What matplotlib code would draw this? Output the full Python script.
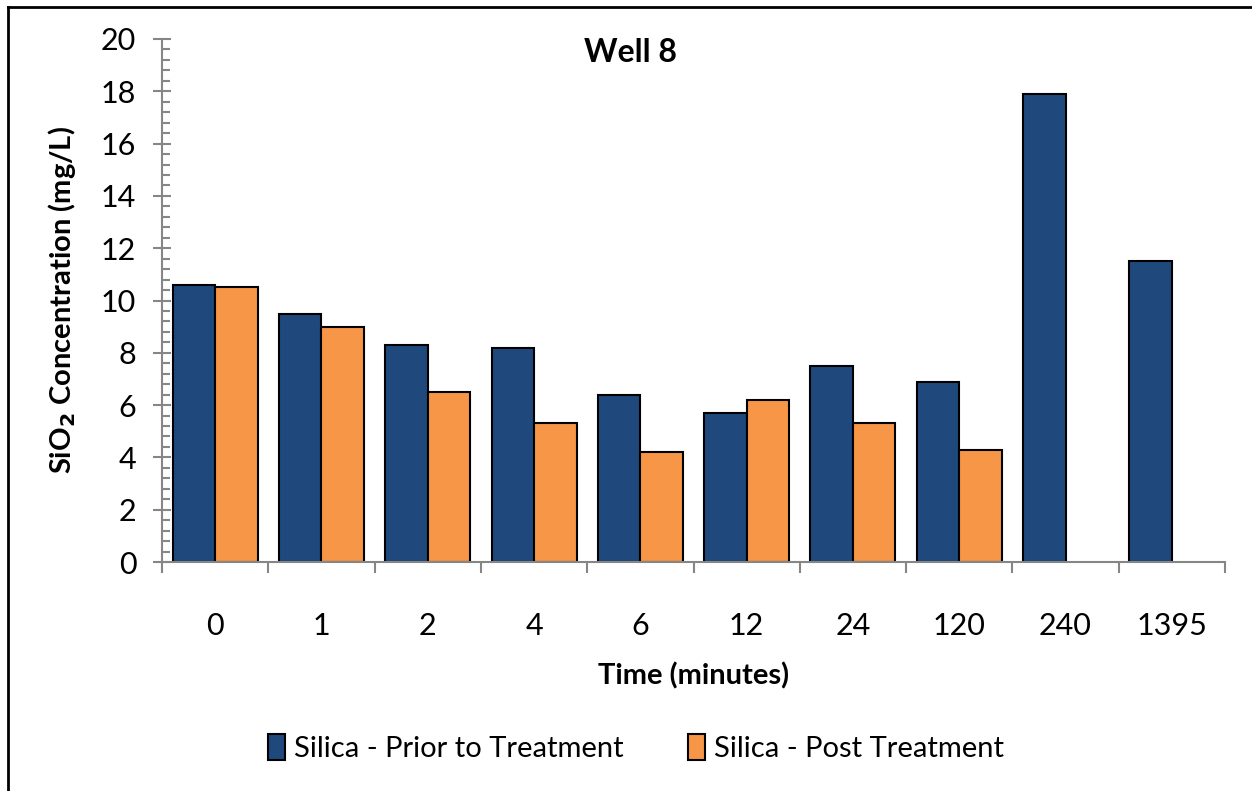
import matplotlib.pyplot as plt
import numpy as np
from matplotlib.ticker import MultipleLocator
from matplotlib.lines import Line2D

plt.rcParams['font.family'] = ['Lato', 'DejaVu Sans']

times = ['0', '1', '2', '4', '6', '12', '24', '120', '240', '1395']
prior = [10.6, 9.5, 8.3, 8.2, 6.4, 5.7, 7.5, 6.9, 17.9, 11.5]
post = [10.5, 9.0, 6.5, 5.3, 4.2, 6.2, 5.3, 4.3, np.nan, np.nan]

W, H = 1252, 791
fig = plt.figure(figsize=(W / 100, H / 100), dpi=100)
ax = fig.add_axes([162 / W, 1 - 562 / H, (1225 - 162) / W, (562 - 39) / H])

x = np.arange(len(times))
w = 0.4
ax.bar(x - w / 2, prior, w, color='#1F497D', edgecolor='black', linewidth=1.5,
       label='Silica - Prior to Treatment')
ax.bar(x + w / 2, post, w, color='#F79646', edgecolor='black', linewidth=1.5,
       label='Silica - Post Treatment')

ax.set_xlim(-0.5, len(times) - 0.5)
ax.set_ylim(0, 20)
ax.yaxis.set_major_locator(MultipleLocator(2))
ax.yaxis.set_minor_locator(MultipleLocator(0.4))

gray = '#868686'
for s in ['top', 'right']:
    ax.spines[s].set_visible(False)
for s in ['left', 'bottom']:
    ax.spines[s].set_color(gray)
    ax.spines[s].set_linewidth(1.5)

ax.set_xticks(x)
ax.set_xticklabels(times)
ax.set_xticks(np.arange(len(times) + 1) - 0.5, minor=True)
ax.tick_params(axis='x', which='major', length=0, labelsize=22, pad=36)
ax.tick_params(axis='x', which='minor', length=8, direction='out', color=gray, width=1.5)
ax.tick_params(axis='y', which='major', length=13, direction='inout', color=gray, width=1.5,
               labelsize=22, pad=12)
ax.tick_params(axis='y', which='minor', length=6, direction='in', color=gray, width=1.5)

ax.set_xlabel('Time (minutes)', fontsize=21, fontweight='bold', labelpad=16)
fig.text(62 / W, 1 - 300 / H, 'SiO$_\\mathbf{2}$ Concentration (mg/L)', rotation=90,
         fontsize=21, fontweight='bold', ha='center', va='center')
fig.text(631 / W, 1 - 53 / H, 'Well 8', fontsize=23, fontweight='bold', ha='center', va='center')

leg = fig.legend(loc='center', bbox_to_anchor=(636 / W, 1 - 748 / H), ncol=2, frameon=False,
                 fontsize=21, handlelength=0.6, handleheight=1.0, handletextpad=0.3,
                 columnspacing=2.2)

# outer frame (left and top edges visible)
fig.add_artist(Line2D([8 / W, 8 / W], [0, 1 - 7 / H], transform=fig.transFigure, color='black', lw=2))
fig.add_artist(Line2D([8 / W, 1], [1 - 7 / H, 1 - 7 / H], transform=fig.transFigure, color='black', lw=2))

fig.savefig('out.png', dpi=100)
